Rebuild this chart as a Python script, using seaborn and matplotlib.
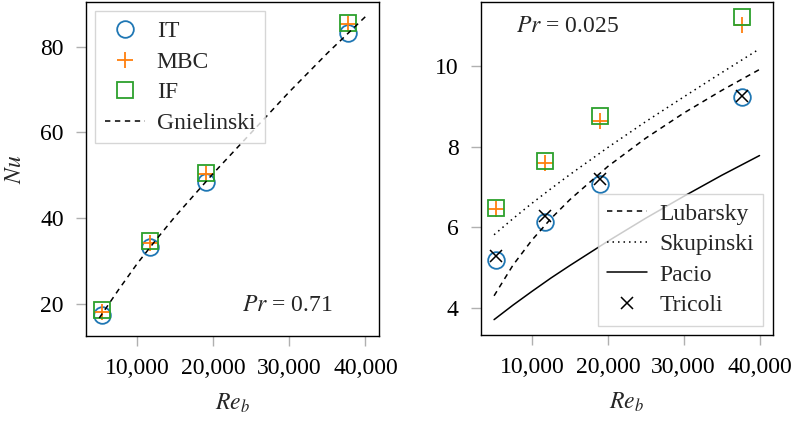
import matplotlib
matplotlib.use("Agg")
import matplotlib.pyplot as plt
import matplotlib.ticker as mticker
import pandas as pd
import seaborn as sns

# ---- data ----
re_data = [5300, 11650, 19000, 37700]
nu_air_it = [17.5, 33.4, 48.5, 83.1]
nu_air_mbc = [18.3, 34.3, 50.3, 85.2]
nu_air_if = [18.6, 34.7, 50.5, 85.4]

re_corr = [5000, 7500, 10000, 12500, 15000, 20000, 25000, 30000, 35000, 40000]
nu_gnielinski = [16.8, 23.3, 29.5, 35.1, 40.5, 50.5, 60.0, 69.5, 78.5, 87.0]

nu_lm_it = [5.19, 6.14, 7.08, 9.23]
nu_lm_mbc = [6.45, 7.60, 8.63, 11.01]
nu_lm_if = [6.47, 7.64, 8.75, 11.22]
nu_lm_tricoli = [5.30, 6.28, 7.19, 9.25]
nu_lubarsky = [4.31, 5.07, 5.69, 6.22, 6.69, 7.51, 8.21, 8.83, 9.39, 9.91]
nu_skupinski = [5.82, 6.22, 6.60, 6.96, 7.31, 7.98, 8.62, 9.23, 9.83, 10.42]
nu_pacio = [3.72, 4.08, 4.42, 4.75, 5.06, 5.66, 6.23, 6.77, 7.29, 7.78]

x_ticks = [10000, 20000, 30000, 40000]
y_ticks_left = [20, 40, 60, 80]
y_ticks_right = [4, 6, 8, 10]

BLUE, ORANGE, GREEN = "#1f77b4", "#ff7f0e", "#2ca02c"

sns.set_theme(style="ticks")
plt.rcParams["font.family"] = ["Liberation Serif", "DejaVu Serif"]
plt.rcParams["mathtext.fontset"] = "stix"
FS = 17
plt.rcParams["font.size"] = FS

fig = plt.figure(figsize=(8, 4.21), dpi=100)
ax1 = fig.add_axes([0.1075, 0.2019, 0.366, 0.7934])
ax2 = fig.add_axes([0.601, 0.2043, 0.365, 0.791])

d_air = pd.DataFrame({"Re": re_data, "IT": nu_air_it, "MBC": nu_air_mbc, "IF": nu_air_if})
d_corr = pd.DataFrame({"Re": re_corr, "Gn": nu_gnielinski, "Lu": nu_lubarsky,
                       "Sk": nu_skupinski, "Pa": nu_pacio})
d_lm = pd.DataFrame({"Re": re_data, "IT": nu_lm_it, "MBC": nu_lm_mbc, "IF": nu_lm_if,
                     "Tr": nu_lm_tricoli})

MS = 12


def markers(ax, df):
    sns.lineplot(data=df, x="Re", y="IT", ax=ax, linestyle="", marker="o", markersize=MS,
                 markerfacecolor="none", markeredgecolor=BLUE, markeredgewidth=1.3,
                 color=BLUE, label="IT")
    sns.lineplot(data=df, x="Re", y="MBC", ax=ax, linestyle="", marker="+", markersize=MS,
                 markeredgecolor=ORANGE, markeredgewidth=1.3, color=ORANGE, label="MBC")
    sns.lineplot(data=df, x="Re", y="IF", ax=ax, linestyle="", marker="s", markersize=MS,
                 markerfacecolor="none", markeredgecolor=GREEN, markeredgewidth=1.3,
                 color=GREEN, label="IF")


LEG = dict(fontsize=FS, frameon=True, fancybox=False, edgecolor="#cccccc",
           handlelength=1.7, handletextpad=0.5, labelspacing=0.38,
           borderaxespad=0.4, borderpad=0.4)

# ---- left panel ----
markers(ax1, d_air)
sns.lineplot(data=d_corr, x="Re", y="Gn", ax=ax1, color="black", linewidth=1.1,
             label="Gnielinski").lines[-1].set_dashes((3.5, 3))
ax1.text(23800, 19.7, r"$Pr$ = 0.71", fontsize=FS, ha="left", va="center")
ax1.set_ylim(12.6, 90.4)
ax1.set_yticks(y_ticks_left)
ax1.set_ylabel(r"$Nu$", fontsize=FS, labelpad=10)
leg1 = ax1.legend(loc="upper left", **LEG)
leg1.get_frame().set_linewidth(1.0)

# ---- right panel ----
markers(ax2, d_lm)
sns.lineplot(data=d_corr, x="Re", y="Lu", ax=ax2, color="black", linewidth=1.1,
             label="Lubarsky").lines[-1].set_dashes((3.5, 3))
sns.lineplot(data=d_corr, x="Re", y="Sk", ax=ax2, color="black", linewidth=1.1,
             label="Skupinski").lines[-1].set_dashes((1, 2.6))
sns.lineplot(data=d_corr, x="Re", y="Pa", ax=ax2, color="black", linewidth=1.1,
             label="Pacio")
sns.lineplot(data=d_lm, x="Re", y="Tr", ax=ax2, linestyle="", marker="x", markersize=8,
             markeredgecolor="black", markeredgewidth=1.1, color="black", label="Tricoli")
ax2.text(7950, 10.97, r"$Pr$ = 0.025", fontsize=FS, ha="left", va="center")
ax2.set_ylim(3.34, 11.58)
ax2.set_yticks(y_ticks_right)
ax2.set_ylabel("")
h, l = ax2.get_legend_handles_labels()
keep = [l.index(n) for n in ["Lubarsky", "Skupinski", "Pacio", "Tricoli"]]
leg2 = ax2.legend([h[i] for i in keep], [l[i] for i in keep], loc="lower right", **LEG)
leg2.get_frame().set_linewidth(1.0)

for ax in (ax1, ax2):
    ax.set_xlim(3250, 41750)
    ax.set_xticks(x_ticks)
    ax.xaxis.set_major_formatter(mticker.FuncFormatter(lambda v, p: f"{int(v):,}"))
    ax.set_xlabel(r"$Re_b$", fontsize=FS, labelpad=9)
    ax.tick_params(direction="out", length=7, width=1, color="#b0b0b0",
                   labelsize=FS, pad=9, labelcolor="black")
    for s in ax.spines.values():
        s.set_visible(True)
        s.set_color("black")
        s.set_linewidth(1.0)
    ax.set_facecolor("white")

fig.savefig("out.png", dpi=100, facecolor="white")
